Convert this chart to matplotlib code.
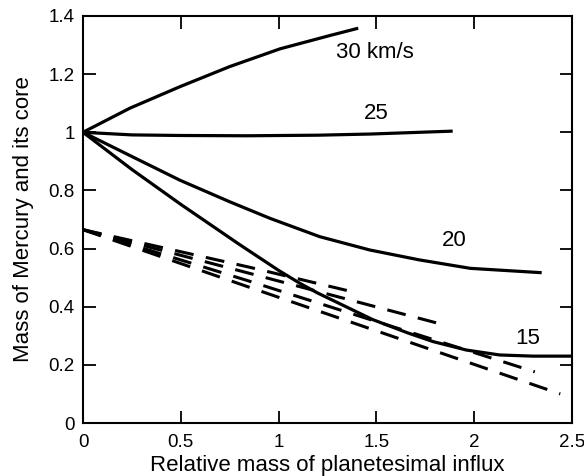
import matplotlib
matplotlib.use('Agg')
import matplotlib.pyplot as plt

plt.rcParams['font.family'] = ['Liberation Sans', 'DejaVu Sans']

# solid curves: mass of Mercury for each impact velocity
x30 = [0, 0.24, 0.496, 0.75, 1.007, 1.263, 1.407]
y30 = [1.0, 1.083, 1.157, 1.226, 1.287, 1.333, 1.358]

x25 = [0, 0.25, 0.5, 0.84, 1.2, 1.47, 1.89]
y25 = [1.0, 0.991, 0.989, 0.988, 0.99, 0.994, 1.004]

x20 = [0, 0.24, 0.496, 0.75, 0.956, 1.21, 1.467, 1.72, 1.98, 2.345]
y20 = [1.0, 0.92, 0.835, 0.761, 0.704, 0.641, 0.595, 0.561, 0.532, 0.517]

x15 = [0, 0.25, 0.5, 0.8, 1.0, 1.11, 1.2, 1.48, 1.66, 1.79, 1.96, 2.13, 2.3, 2.5]
y15 = [1.0, 0.872, 0.752, 0.614, 0.525, 0.48, 0.447, 0.356, 0.31, 0.28, 0.251, 0.234, 0.23, 0.23]

# dashed curves: mass of the core
xc1 = [0, 0.85, 1.38]
yc1 = [0.665, 0.536, 0.451]
xc2 = [0, 0.85, 1.86]
yc2 = [0.665, 0.515, 0.335]
xc3 = [0, 0.85, 2.31]
yc3 = [0.665, 0.488, 0.176]
xc4 = [0, 0.85, 2.44]
yc4 = [0.665, 0.467, 0.100]

labels = ['30 km/s', '25', '20', '15']
label_x = [1.49, 1.50, 1.897, 2.273]
label_y = [1.276, 1.066, 0.627, 0.291]

fig = plt.figure(figsize=(5.84, 4.76), dpi=100)
ax = fig.add_axes([83/584, 1 - 423/476, (572-83)/584, (423-16)/476])

for xs, ys in [(x30, y30), (x25, y25), (x20, y20), (x15, y15)]:
    ax.plot(xs, ys, color='black', lw=2.3, solid_capstyle='butt',
            solid_joinstyle='round')
for xs, ys in [(xc1, yc1), (xc2, yc2), (xc3, yc3), (xc4, yc4)]:
    ax.plot(xs, ys, color='black', lw=2.2, dashes=(6.2, 4.1),
            dash_capstyle='butt')

for t, lx, ly in zip(labels, label_x, label_y):
    ax.text(lx, ly, t, fontsize=16, ha='center', va='center')

ax.set_xlim(0, 2.5)
ax.set_ylim(0, 1.4)
ax.set_xticks([0, 0.5, 1, 1.5, 2, 2.5])
ax.set_xticklabels(['0', '0.5', '1', '1.5', '2', '2.5'])
ax.set_yticks([0, 0.2, 0.4, 0.6, 0.8, 1.0, 1.2, 1.4])
ax.set_yticklabels(['0', '0.2', '0.4', '0.6', '0.8', '1', '1.2', '1.4'])
ax.tick_params(direction='in', length=9, width=1.3, labelsize=13.5,
               top=True, right=True)
ax.tick_params(axis='x', pad=8)
ax.tick_params(axis='y', pad=6)
for s in ax.spines.values():
    s.set_linewidth(1.5)

ax.set_xlabel('Relative mass of planetesimal influx', fontsize=16)
ax.set_ylabel('Mass of Mercury and its core', fontsize=16)
ax.xaxis.set_label_coords(0.5, -(465 - 423) / 407)
ax.xaxis.label.set_va('center')
ax.yaxis.set_label_coords(-(83 - 23) / 489, 0.5)
ax.yaxis.label.set_va('center')

fig.savefig('out.png', dpi=100)
